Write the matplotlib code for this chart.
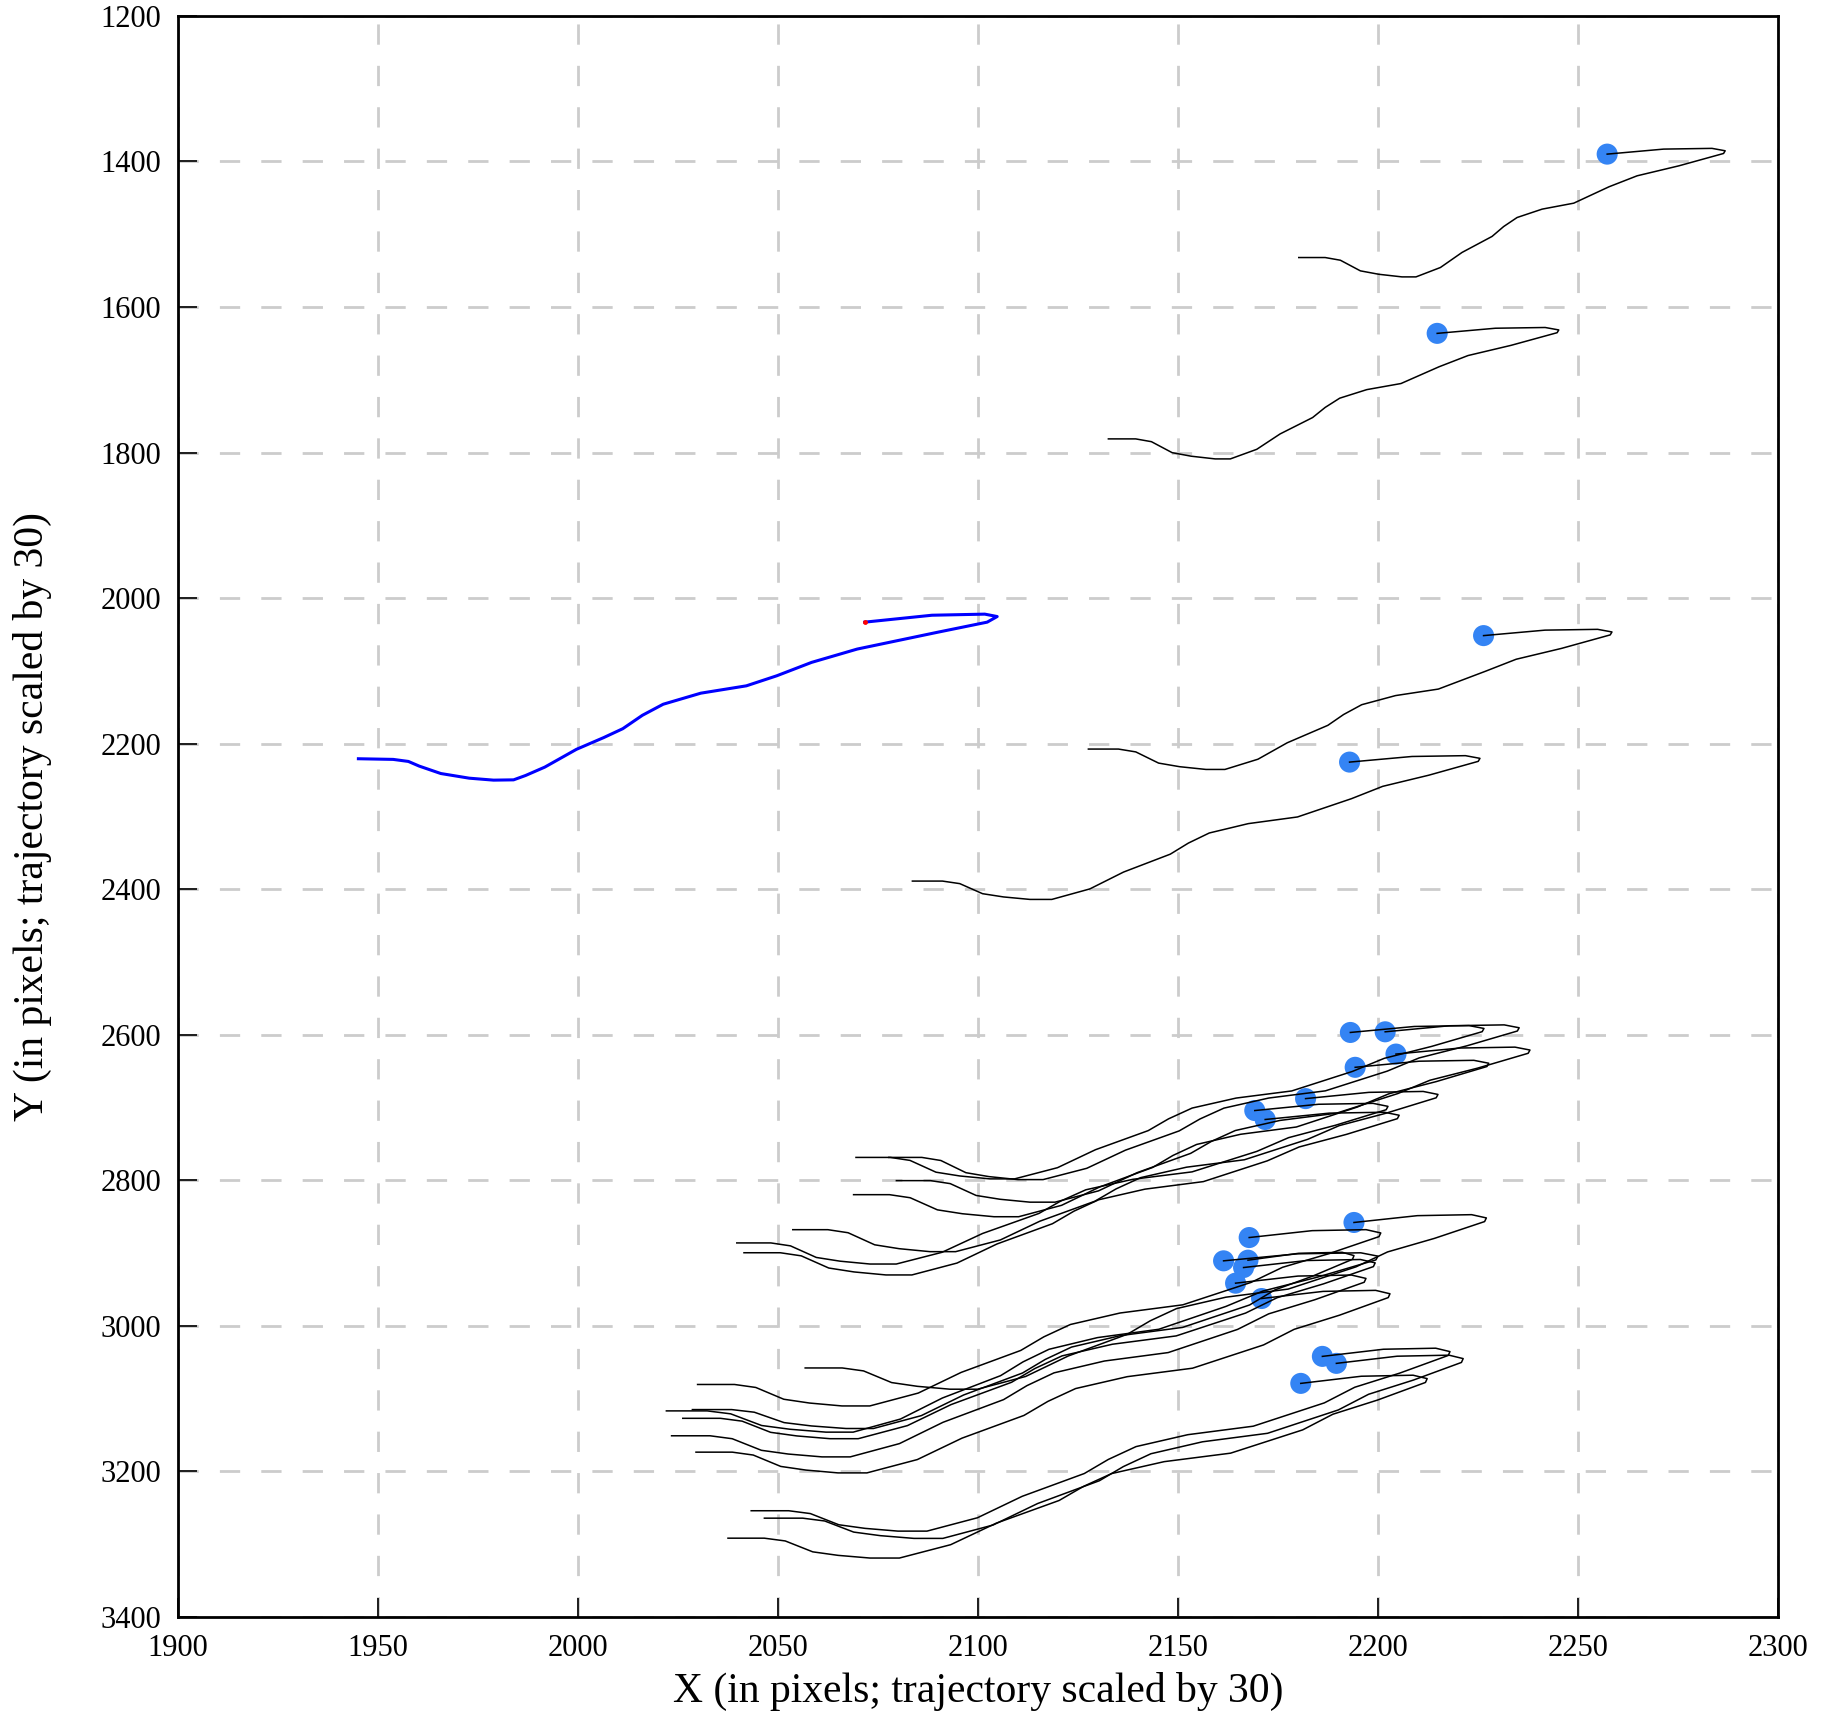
import numpy as np
import matplotlib
matplotlib.use("Agg")
import matplotlib.pyplot as plt

plt.rcParams['font.family'] = ['Liberation Serif', 'DejaVu Serif']

# Common trajectory shape: offsets from the start point, read from the top-right trajectory
shape_dx = [0, 14.15, 26.25, 29.55, 29.15, 17.95, 7.5, 0.45, -8.35, -16.25, -22.5,
            -25.85, -28.75, -36.25, -41.65, -47.75, -51.25, -57.05, -61.65, -66.65,
            -70.45, -77.05]
shape_dy = [0, -6.9, -7.9, -4.6, -0.9, 16.1, 29.8, 44.9, 67.4, 75.6, 87.1,
            99.5, 113.1, 135.1, 155.8, 168.7, 168.7, 165.1, 160.4, 145.8,
            142.1, 142.1]

# Per-trajectory anchors:
# start = blue dot, tip = rightmost x, dip = lowest point, end = last point
start_x = [2257.3, 2214.8, 2226.4, 2192.9,
           2193.1, 2201.8, 2204.5, 2194.3, 2181.9, 2169.2, 2171.8,
           2194.0, 2167.8, 2161.4, 2167.5, 2166.4, 2164.4, 2170.9,
           2186.1, 2189.6, 2180.7]
start_y = [1389.9, 1636.2, 2051.5, 2225.3,
           2596.8, 2595.9, 2626.5, 2644.7, 2687.7, 2704.1, 2716.4,
           2857.9, 2878.6, 2910.6, 2909.7, 2919.8, 2941.3, 2962.4,
           3041.9, 3051.5, 3079.0]
tip_x = [2286.8, 2245.2, 2258.5, 2225.5,
         2226.5, 2235.3, 2238.0, 2227.7, 2215.0, 2202.5, 2205.3,
         2227.1, 2200.7, 2200.0, 2194.0, 2199.3, 2197.0, 2203.0,
         2218.0, 2221.3, 2212.3]
dip_x = [2206.0, 2159.3, 2157.0, 2113.0,
         2103.0, 2110.0, 2113.0, 2104.0, 2088.0, 2073.0, 2077.0,
         2093.0, 2066.0, 2062.0, 2067.0, 2063.0, 2061.0, 2065.0,
         2080.0, 2084.0, 2073.0]
dip_y = [1558.6, 1808.7, 2235.4, 2414.0,
         2798.0, 2799.0, 2830.0, 2850.0, 2898.0, 2915.0, 2930.0,
         3087.0, 3110.0, 3146.0, 3141.0, 3155.0, 3180.0, 3202.0,
         3282.0, 3292.0, 3319.0]
end_x = [2180.2, 2132.6, 2127.6, 2083.6,
         2069.5, 2077.7, 2079.6, 2068.9, 2053.7, 2039.7, 2041.5,
         2056.8, 2029.9, 2022.1, 2028.6, 2026.2, 2023.4, 2029.5,
         2043.3, 2046.6, 2037.5]
end_y = [1532.0, 1781.2, 2207.4, 2388.8,
         2768.5, 2768.5, 2800.4, 2819.7, 2867.8, 2886.0, 2899.5,
         3057.8, 3080.5, 3116.8, 3115.0, 3127.0, 3151.0, 3173.5,
         3254.0, 3264.2, 3291.7]

# Blue reference trajectory
blue_x = [2071.7, 2088.5, 2101.7, 2104.8, 2102.3, 2089.8, 2069.8, 2058.4, 2049.7,
          2042.1, 2030.7, 2021.3, 2016.1, 2011.2, 2006.4, 1999.6, 1991.7, 1986.9,
          1983.9, 1978.9, 1972.8, 1965.7, 1960.3, 1957.6, 1953.8, 1945.1]
blue_y = [2033.0, 2023.5, 2022.0, 2025.3, 2033.0, 2047.0, 2070.0, 2088.3, 2106.7,
          2120.5, 2130.6, 2145.8, 2161.0, 2179.4, 2191.7, 2207.8, 2232.2, 2243.7,
          2249.7, 2250.1, 2247.4, 2241.0, 2230.8, 2224.4, 2221.6, 2220.7]

x_ticks = [1900, 1950, 2000, 2050, 2100, 2150, 2200, 2250, 2300]
y_ticks = [1200, 1400, 1600, 1800, 2000, 2200, 2400, 2600, 2800, 3000, 3200, 3400]

fig = plt.figure(figsize=(18.25, 17.19), dpi=100)
ax = fig.add_axes([0.09753, 0.05934, 0.8767, 0.9314])

sdx = np.array(shape_dx)
sdy = np.array(shape_dy)
n_pts = len(sdx)
k = int(np.where(sdy == sdy.max())[0][-1])   # index of the dip in the shape
idx = np.arange(n_pts)
hook_ext = sdx.max()

for i in range(len(start_x)):
    xs0, ys0 = start_x[i], start_y[i]
    sh = (tip_x[i] - xs0) / hook_ext
    s1x = (xs0 - dip_x[i]) / (-sdx[k])
    s2x = (dip_x[i] - end_x[i]) / (sdx[k] - sdx[-1])
    s1y = (dip_y[i] - ys0) / sdy[k]
    s2y = (dip_y[i] - end_y[i]) / (sdy[k] - sdy[-1])
    xs = np.where(idx <= k,
                  xs0 + np.where(sdx >= 0, sdx * sh, sdx * s1x),
                  dip_x[i] + (sdx - sdx[k]) * s2x)
    ys = np.where(idx <= k,
                  ys0 + sdy * s1y,
                  dip_y[i] + (sdy - sdy[k]) * s2y)
    ax.plot(xs, ys, color='black', lw=1.1, zorder=4)

ax.scatter(start_x, start_y, s=230, color='#3484f4', edgecolors='none', zorder=3)

ax.plot(blue_x, blue_y, color='#0000ff', lw=2.2, zorder=5)
ax.plot(blue_x[0], blue_y[0], 'o', color='red', ms=3.5, mec='none', zorder=6)

ax.set_xlim(1900, 2300)
ax.set_ylim(3400, 1200)
ax.set_xticks(x_ticks)
ax.set_yticks(y_ticks)
ax.grid(True, color='#cccccc', lw=2, linestyle=(0, (7.3, 7.6)), zorder=0)
ax.set_axisbelow(True)

for sp in ax.spines.values():
    sp.set_linewidth(2)
ax.tick_params(axis='x', direction='in', length=14, width=1.2, labelsize=22, pad=12)
ax.tick_params(axis='y', direction='in', length=14, width=1.2, labelsize=22, pad=12)

ax.set_xlabel('X (in pixels; trajectory scaled by 30)', fontsize=30)
ax.set_ylabel('Y (in pixels; trajectory scaled by 30)', fontsize=30)
ax.xaxis.set_label_coords(0.5, -0.0344)
ax.yaxis.set_label_coords(-0.0788, 0.5)

fig.savefig('out.png', dpi=100)
